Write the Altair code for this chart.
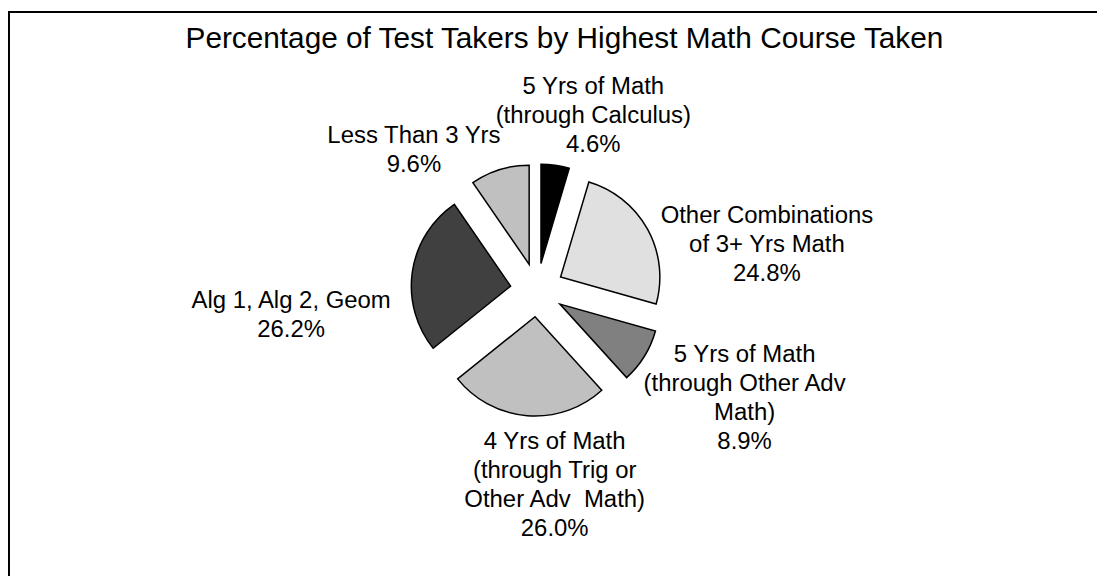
import altair as alt
import pandas as pd

# ---------------- data ----------------
TITLE = "Percentage of Test Takers by Highest Math Course Taken"
CATEGORIES = [
    "5 Yrs of Math (through Calculus)",
    "Other Combinations of 3+ Yrs Math",
    "5 Yrs of Math (through Other Adv Math)",
    "4 Yrs of Math (through Trig or Other Adv Math)",
    "Alg 1, Alg 2, Geom",
    "Less Than 3 Yrs",
]
LABEL_LINES = [
    ["5 Yrs of Math", "(through Calculus)"],
    ["Other Combinations", "of 3+ Yrs Math"],
    ["5 Yrs of Math", "(through Other Adv", "Math)"],
    ["4 Yrs of Math", "(through Trig or", "Other Adv\u00a0 Math)"],
    ["Alg 1, Alg 2, Geom"],
    ["Less Than 3 Yrs"],
]
PERCENTS = [4.6, 24.8, 8.9, 26.0, 26.2, 9.6]

# ---------------- styles / layout ----------------
COLORS = ["#000000", "#e0e0e0", "#808080", "#c0c0c0", "#404040", "#c0c0c0"]
W, H = 1097, 570
CX, CY = 533, 282          # pie centre (px)
R = 100                    # pie radius (px)
EXPLODE = 27               # explode distance (px)
R_LAB = 157                # label anchor distance (px)
NUDGE_X = [34, 94, 75.5, 30, -92.5, -77.5]
NUDGE_Y = [-42, 8, -10.5, 3.5, 41, 2]
FONT = "Liberation Sans"

df = pd.DataFrame({
    "order": list(range(len(CATEGORIES))),
    "category": CATEGORIES,
    "value": PERCENTS,
    "label": ["\n".join(lines + [f"{v:.1f}%"]) for lines, v in zip(LABEL_LINES, PERCENTS)],
})

nx = "[" + ",".join(str(v) for v in NUDGE_X) + "]"
ny = "[" + ",".join(str(v) for v in NUDGE_Y) + "]"

base = (
    alt.Chart(df)
    .transform_window(cum="sum(value)", sort=[alt.SortField("order")], frame=[None, 0])
    .transform_joinaggregate(total="sum(value)")
    .transform_calculate(
        start="(datum.cum - datum.value) / datum.total * 2 * PI",
        end="datum.cum / datum.total * 2 * PI",
    )
    .transform_calculate(mid="(datum.start + datum.end) / 2")
    .transform_calculate(
        ax=f"{CX} + {EXPLODE} * sin(datum.mid)",
        ay=f"{CY} - {EXPLODE} * cos(datum.mid)",
        lx=f"{CX} + {R_LAB} * sin(datum.mid) + {nx}[datum.order]",
        ly=f"{CY} - {R_LAB} * cos(datum.mid) + {ny}[datum.order]",
    )
)

slices = base.mark_arc(radius=R, stroke="black", strokeWidth=1.5).encode(
    theta=alt.Theta("start:Q", scale=None),
    theta2="end:Q",
    x=alt.X("ax:Q", scale=None),
    y=alt.Y("ay:Q", scale=None),
    color=alt.Color("category:N", scale=alt.Scale(domain=CATEGORIES, range=COLORS), legend=None),
)

labels = base.mark_text(
    font=FONT, fontSize=24.1, lineHeight=29.3, lineBreak="\n",
    align="center", baseline="alphabetic", color="black",
).encode(
    x=alt.X("lx:Q", scale=None),
    y=alt.Y("ly:Q", scale=None),
    text="label:N",
)

title = alt.Chart(pd.DataFrame({"t": [TITLE]})).mark_text(
    font=FONT, fontSize=30, align="center", baseline="alphabetic", color="black"
).encode(x=alt.value(560.5), y=alt.value(38.7), text="t:N")

frame_top = alt.Chart(pd.DataFrame({"a": [0]})).mark_rule(color="black", strokeWidth=2).encode(
    x=alt.value(0), x2=alt.value(W), y=alt.value(2)
)
frame_left = alt.Chart(pd.DataFrame({"a": [0]})).mark_rule(color="black", strokeWidth=2).encode(
    x=alt.value(1), y=alt.value(1), y2=alt.value(H)
)

chart = (
    alt.layer(frame_top, frame_left, title, slices, labels)
    .properties(width=W, height=H, padding=0, autosize=alt.AutoSizeParams(type="none"), background="white")
    .configure_view(stroke=None)
)

chart.save("out.html", embed_options={"renderer": "svg", "actions": False})
